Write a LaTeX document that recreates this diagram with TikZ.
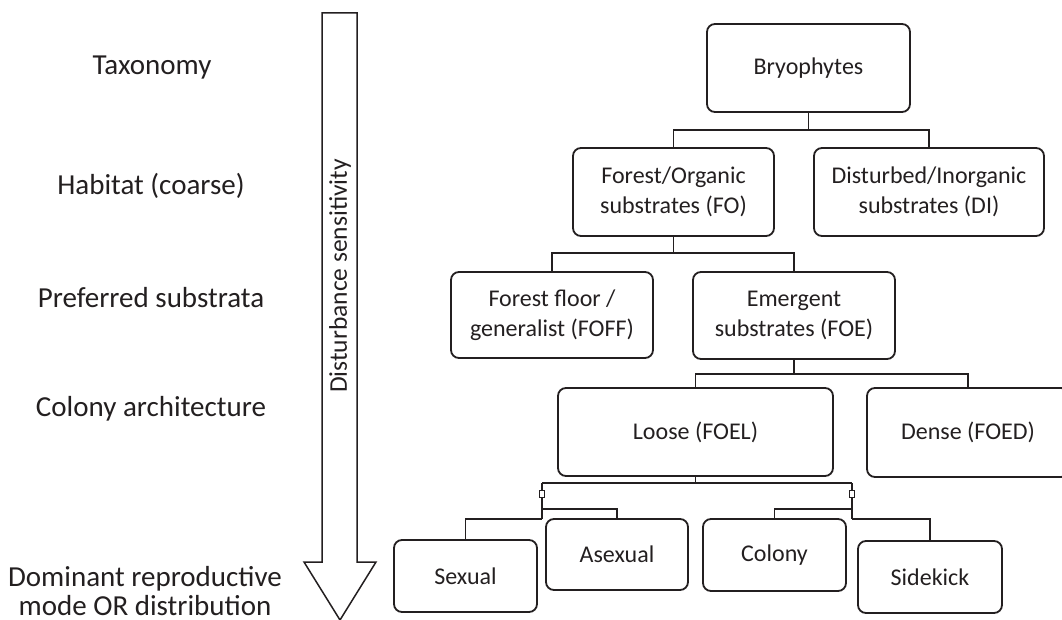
\documentclass[tikz,border=0pt]{standalone}
\usepackage{fontspec}
\setmainfont{Carlito}
\definecolor{ink}{HTML}{231F20}
\begin{document}
\begin{tikzpicture}[x=1pt,y=-1pt,
  every node/.style={font=\fontsize{24}{29.5}\selectfont, text=ink},
  box/.style={draw=ink, line width=1.8pt, rounded corners=8pt, align=center, inner sep=0pt},
  conn/.style={draw=ink, line width=1.8pt},
  lbl/.style={align=center, inner sep=0pt, font=\fontsize{29}{28.5}\selectfont},
  knob/.style={draw=ink, fill=white, line width=1.4pt, minimum width=5pt, minimum height=7pt, inner sep=0pt}]
\useasboundingbox (0,0) rectangle (1062,620);
% left labels
\node[lbl] (tax) at (152,68) {Taxonomy};
\node[lbl] (hab) at (151,186) {Habitat (coarse)};
\node[lbl] (pref) at (151,298) {Preferred substrata};
\node[lbl] (colarch) at (151,409) {Colony architecture};
\node[lbl] (dom) at (145,591) {Dominant reproductive\\mode OR distribution};
% arrow
\draw[ink, line width=1.5pt, line join=miter] (322,13) -- (357,13) -- (357,562) -- (376,562) -- (340,620) -- (304,562) -- (322,562) -- cycle;
\node[inner sep=0pt, rotate=90, font=\fontsize{25.5}{30}\selectfont] (dist) at (340,276) {Disturbance sensitivity};
% boxes
\node[box, minimum width=203pt, minimum height=88pt] (bryo) at (808.5,68) {Bryophytes};
\node[box, minimum width=201pt, minimum height=88pt] (fo) at (673.5,192) {Forest/Organic\\substrates (FO)};
\node[box, minimum width=230pt, minimum height=88pt] (di) at (929,192) {Disturbed/Inorganic\\substrates (DI)};
\node[box, minimum width=202pt, minimum height=86pt] (foff) at (552,315) {Forest floor /\\generalist (FOFF)};
\node[box, minimum width=202pt, minimum height=87pt] (foe) at (794,315.5) {Emergent\\substrates (FOE)};
\node[box, minimum width=275pt, minimum height=88pt] (loose) at (695.5,432) {Loose (FOEL)};
\node[box, minimum width=202pt, minimum height=89pt] (dense) at (968,432.5) {Dense (FOED)};
\node[box, minimum width=143pt, minimum height=72pt] (sex) at (465.5,576) {Sexual};
\node[box, minimum width=142pt, minimum height=71pt] (asex) at (617,554.5) {Asexual};
\node[box, minimum width=143pt, minimum height=72pt] (colony) at (774.5,555) {Colony};
\node[box, minimum width=144pt, minimum height=72pt] (side) at (930,577) {Sidekick};
% junction coordinates
\coordinate (j1) at (808.5,130);
\coordinate (j2) at (673.5,253);
\coordinate (j3) at (794,374);
\coordinate (j4) at (695.5,483);
\coordinate (jl) at (542,483);
\coordinate (jr) at (852,483);
\coordinate (jla) at (542,509);
\coordinate (jls) at (542,519);
\coordinate (jrc) at (852,509);
\coordinate (jrs) at (852,519);
% connectors
\draw[conn] (bryo.south) -- (j1);
\draw[conn] (j1) -| (fo.north);
\draw[conn] (j1) -| (di.north);
\draw[conn] (fo.south) -- (j2);
\draw[conn] (j2) -| (foff.north);
\draw[conn] (j2) -| (foe.north);
\draw[conn] (foe.south) -- (j3);
\draw[conn] (j3) -| (loose.north);
\draw[conn] (j3) -| (dense.north);
\draw[conn] (loose.south) -- (j4);
\draw[conn] (jl) -- (jr);
\draw[conn] (jl) -- (jls);
\draw[conn] (jls) -| (sex.north);
\draw[conn] (jla) -| (asex.north);
\draw[conn] (jr) -- (jrs);
\draw[conn] (jrs) -| (side.north);
\draw[conn] (jrc) -| (colony.north);
% small squares
\node[knob] (sqL) at (542,494) {};
\node[knob] (sqR) at (852,494) {};
\end{tikzpicture}
\end{document}
